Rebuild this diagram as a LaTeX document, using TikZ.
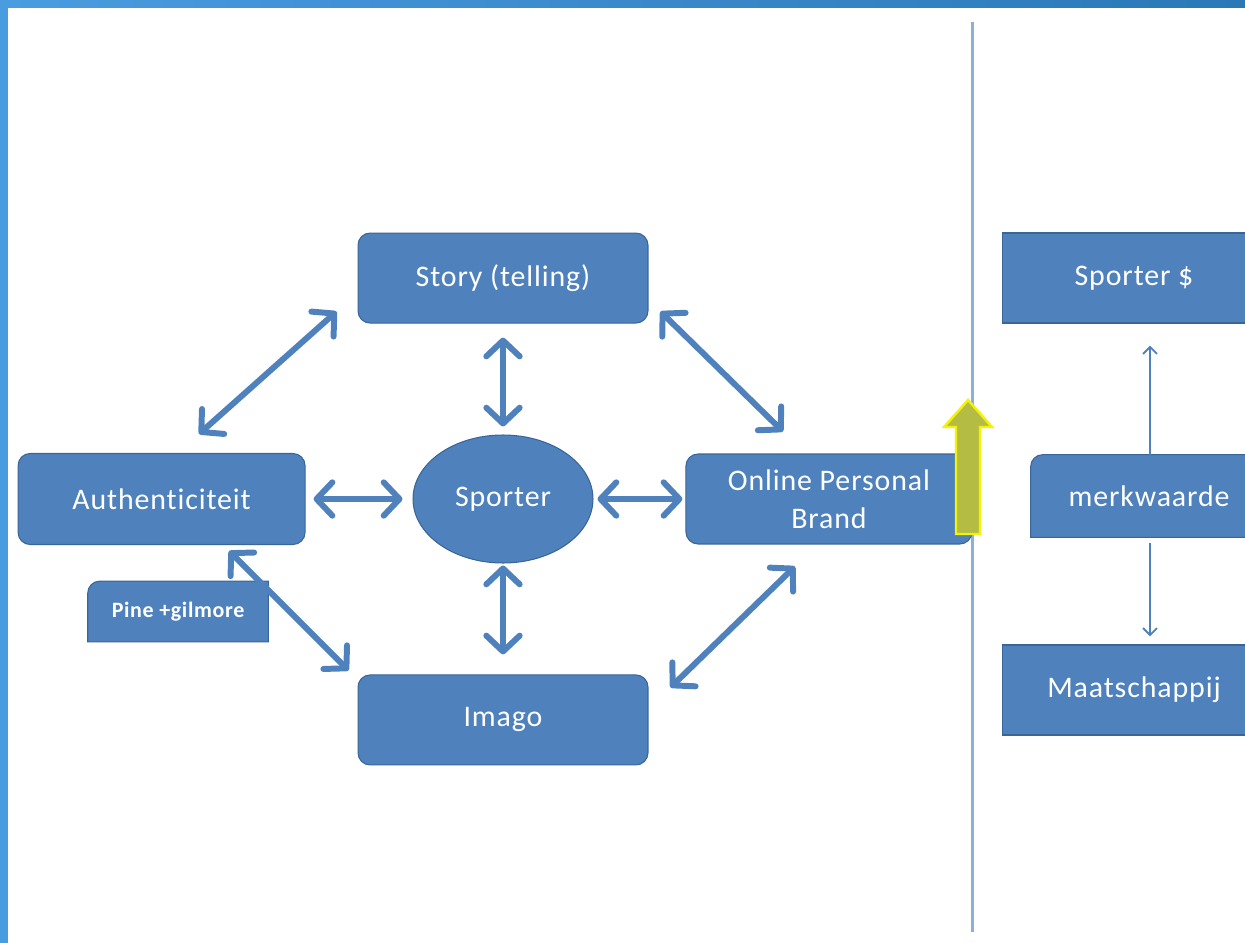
\documentclass[tikz,border=0pt]{standalone}
\usepackage{fontspec}
\setmainfont{Carlito}[Ligatures=NoCommon, LetterSpace=3]
\usetikzlibrary{arrows.meta,shapes.geometric,backgrounds}
\definecolor{boxblue}{HTML}{4F81BD}
\definecolor{boxline}{HTML}{3A6597}
\definecolor{sepblue}{HTML}{8EAEDB}
\definecolor{framea}{HTML}{4A9CE0}
\definecolor{frameb}{HTML}{2A78B6}
\definecolor{olivefill}{HTML}{B4BC44}
\definecolor{glow}{HTML}{F2F20A}
\tikzstyle{every picture}=[x=0.02cm, y=-0.02cm,%
	>={Straight Barb[length=9pt,width=19pt,line width=3.4pt,round]}, font=\fontsize{17}{21.6}\selectfont]
\tikzstyle{box}=[rectangle, fill=boxblue, draw=boxline, line width=0.6pt,%
	text=white, align=center, inner sep=2pt]
\tikzstyle{rbox}=[box, rounded corners=0.24cm]
\tikzstyle{link}=[<->, draw=boxblue, line width=3.4pt]
\tikzstyle{flow}=[->, draw=boxblue, line width=1.1pt, >={Straight Barb[length=4pt,width=8pt,line width=1.1pt]}]

\begin{document}
\begin{tikzpicture}
	\useasboundingbox (0,0) rectangle (1245,943);
	\clip (0,0) rectangle (1245,943);
	\shade[left color=framea, right color=frameb] (0,0) rectangle (1245,7);
	\fill[framea] (0,0) rectangle (8,943);
	\draw[sepblue, line width=1.7pt] (972,22) -- (972,932);

	\node[ellipse, fill=boxblue, draw=boxline, line width=0.6pt, text=white,%
		minimum width=3.6cm, minimum height=2.56cm, inner sep=0pt] (S) at (503,499) {Sporter};
	\node[rbox, minimum width=5.8cm, minimum height=1.8cm] (St) [above of=S, node distance=4.42cm] {Story (telling)};
	\node[rbox, minimum width=5.8cm, minimum height=1.8cm] (I) [below of=S, node distance=4.42cm] {Imago};
	\node[rbox, minimum width=5.74cm, minimum height=1.82cm] (A) [left of=S, node distance=6.83cm] {Authenticiteit};
	\node[rbox, minimum width=5.72cm, minimum height=1.8cm] (O) [right of=S, node distance=6.52cm] {Online Personal\\Brand};
	\node[text=white, minimum width=3.6cm, minimum height=1.2cm, inner sep=0pt,%
		font=\fontsize{12.5}{15}\selectfont\bfseries] (P) [below of=A, node distance=2.25cm, xshift=0.33cm] {Pine +gilmore};

	\node[box, minimum width=5.28cm, minimum height=1.8cm] (SD) at (1134,278) {Sporter \$};
	\node[text=white, minimum width=4.72cm, minimum height=1.64cm, inner sep=0pt] (M) at (1149,496) {merkwaarde};
	\node[box, minimum width=5.28cm, minimum height=1.8cm] (Ma) at (1134,690) {Maatschappij};

	\begin{pgfonlayer}{background}
		\foreach \n in {M,P}
			\draw[fill=boxblue, draw=boxline, line width=0.6pt] (\n.south west) --
				([yshift=-0.24cm]\n.north west) arc[start angle=180, end angle=90, radius=0.24cm] --
				(\n.north east) -- (\n.south east) -- cycle;
	\end{pgfonlayer}

	\draw[link] ([shift={(-21,-12)}]St.south west) -- ([shift={(37.5,-19)}]A.north);
	\draw[link] ([yshift=-0.28cm]St.south) -- ([yshift=0.16cm]S.north);
	\draw[link] ([shift={(12,-12)}]St.south east) -- ([shift={(-46,-22)}]O.north);
	\draw[link] ([xshift=0.16cm]A.east) -- ([xshift=-0.2cm]S.west);
	\draw[link] ([xshift=0.08cm]S.east) -- ([xshift=-0.06cm]O.west);
	\draw[link] ([yshift=-0.04cm]S.south) -- ([yshift=0.4cm]I.north);
	\draw[link] ([shift={(67.5,6)}]A.south) -- ([shift={(-9,-4)}]I.north west);
	\draw[link] ([shift={(-34,22)}]O.south) -- ([shift={(22,13)}]I.north east);

	\draw[flow] ([xshift=0.02cm]M.north) -- ([shift={(16,22)}]SD.south);
	\draw[flow] ([shift={(1,6)}]M.south) -- ([shift={(16,-8)}]Ma.north);

	\draw[glow, line width=1.4pt, fill=olivefill]
		(956,534) -- (956,427) -- (944,427) -- (968,400) -- (992,427) -- (980,427) -- (980,534) -- cycle;
\end{tikzpicture}
\end{document}
